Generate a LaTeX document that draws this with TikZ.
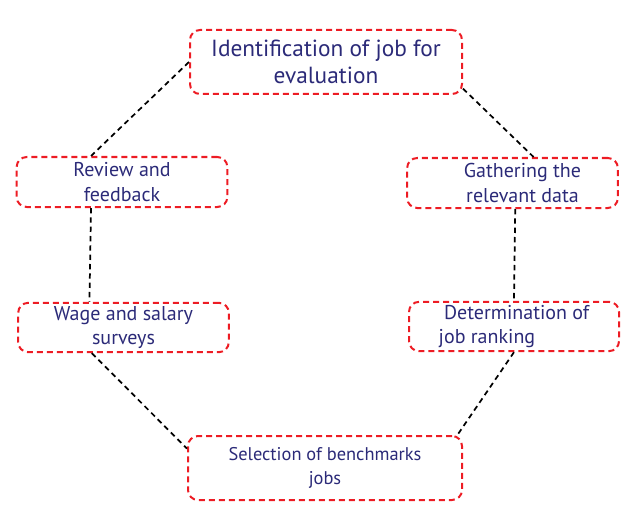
\documentclass[tikz,border=0pt]{standalone}
\usepackage{fontspec}
\setmainfont{PT Sans}
\definecolor{stepred}{RGB}{237,28,36}
\definecolor{stepnavy}{RGB}{43,42,120}

\tikzset{
  stage/.style={draw=stepred, line width=1.5pt, dash pattern=on 4.5pt off 3pt,
    rounded corners=7.5pt, text=stepnavy, align=center, inner sep=0pt,
    font=\fontsize{15}{18.5}\selectfont},
  link/.style={black, line width=1.3pt, dash pattern=on 4pt off 3pt}
}

\begin{document}
\begin{tikzpicture}[x=0.75pt, y=-0.75pt]
          \useasboundingbox (0,0) rectangle (636,528);
          % the six stages round the circle
          \node[stage, minimum width=204pt, minimum height=48pt,
                font=\fontsize{17.5}{20.5}\selectfont] (ident) at (326,62)
                {Identification of job for\\evaluation};
          \node[stage, minimum width=158pt, minimum height=37.5pt] (review) at (122,182)
                {Review and\\feedback};
          \node[stage, minimum width=158pt, minimum height=37.5pt] (gather) at (512.5,183)
                {\hspace*{15pt}Gathering the\\\hspace*{15pt}relevant data};
          \node[stage, minimum width=158pt, minimum height=37pt] (wage) at (123.5,327.5)
                {Wage and salary\\surveys};
          \node[stage, minimum width=157.5pt, minimum height=37pt, align=left] (rank) at (514,326.5)
                {\hspace*{4pt}Determination of\\job ranking};
          \node[stage, minimum width=205.5pt, minimum height=48pt,
                font=\fontsize{13.8}{18.5}\selectfont] (bench) at (325,468)
                {Selection of benchmarks\\jobs};
          % dashed links
          \draw[link] (ident.west) -- (review.140);
          \draw[link] (ident.349) -- (gather.51);
          \draw[link] (review.220) -- (wage.143);
          \draw[link] (gather.276) -- (rank.north);
          \draw[link] (wage.219) -- (bench.172);
          \draw[link] (rank.south) -- (bench.14);
\end{tikzpicture}
\end{document}
